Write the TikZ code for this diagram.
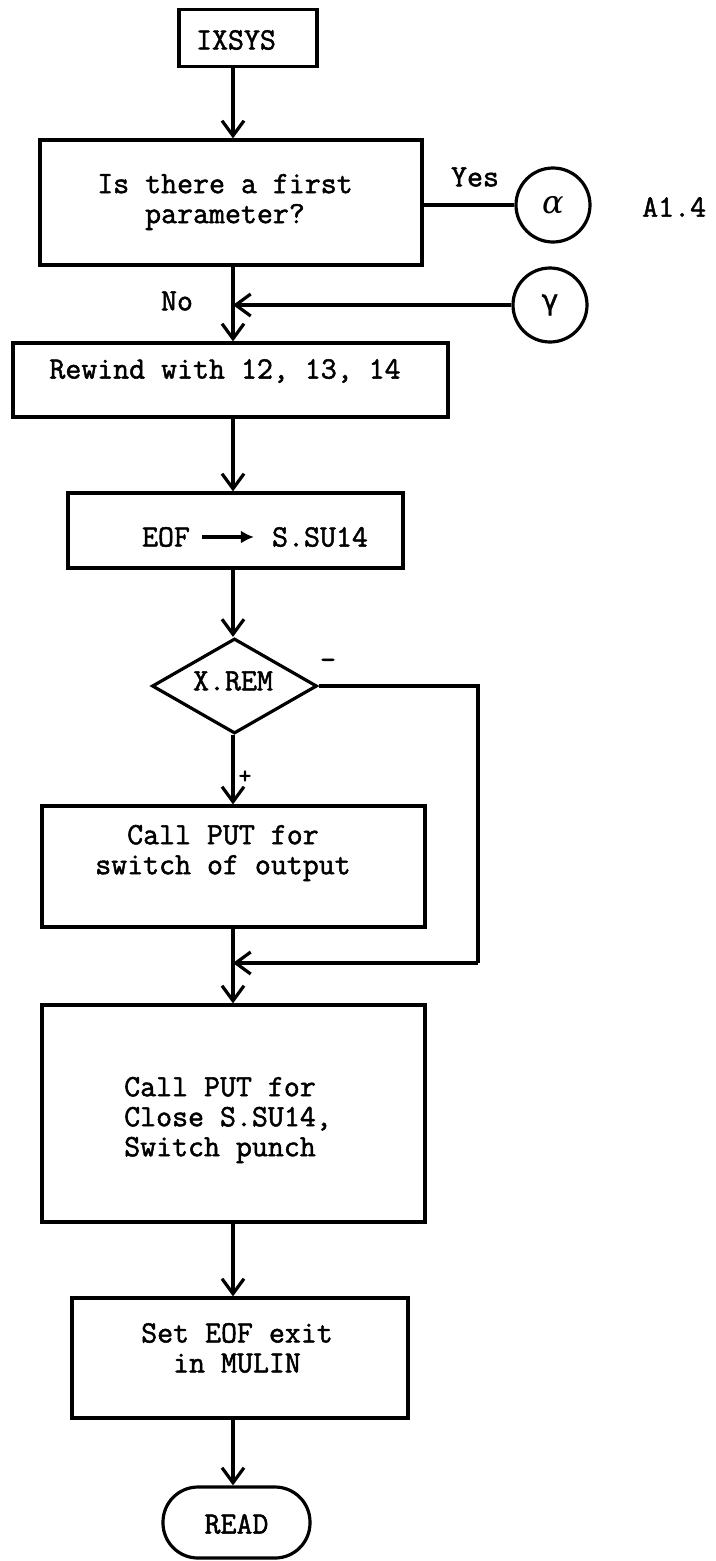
\documentclass[tikz,border=0pt]{standalone}
\usepackage{fontspec}
\usetikzlibrary{arrows.meta,shapes.geometric}
\newfontfamily\greekfont{DejaVu Sans}[FakeBold=1.2]
\newfontfamily\alphafont{DejaVu Serif}
\newfontfamily\typewriter{Latin Modern Mono}[FakeBold=1.6]

\begin{document}
\begin{tikzpicture}[x=1pt,y=-1pt,
  lw/.style={line width=3.2pt},
  box/.style={draw,lw,rectangle,inner sep=0pt},
  txt/.style={inner sep=0pt,align=center,font=\typewriter\fontsize{31}{30}\selectfont},
  conn/.style={draw,lw},
  arr/.style={conn,-{Straight Barb[length=15pt,width=22pt]}},
  connector/.style={draw,lw,circle,inner sep=0pt,minimum size=74pt},
  decision/.style={draw,lw,diamond,aspect=1.74,inner sep=0pt},
  terminal/.style={draw,lw,rectangle,rounded corners=35pt,inner sep=0pt}]

\useasboundingbox (0,0) rectangle (715,1561);

% main flow axis
\coordinate (axis) at (233,0);

% entry point
\node[box,minimum width=138pt,minimum height=57pt] (ixsys) at (248,38) {};
\node[txt] (ixsyst) at (236,40) {IXSYS};

% first parameter test
\node[box,minimum width=382pt,minimum height=125pt] (q1) at (231,202.5) {};
\node[txt] (q1t) at (225,202) {Is there a first\\parameter?};

% off-page connectors
\node[connector] (alpha) at (553,205) {\alphafont\itshape\fontsize{32}{32}\selectfont α};
\node[txt,anchor=west] (a14) at (642,207) {A1.4};
\node[connector] (gamma) at (550,305) {\greekfont\fontsize{28}{28}\selectfont γ};
\node[txt] (yes) at (475,177) {Yes};
\node[txt] (no) at (177,301) {No};

% rewind tapes
\node[box,minimum width=435pt,minimum height=74pt] (rew) at (230.5,380) {};
\node[txt] (rewt) at (225,371) {Rewind with 12, 13, 14};

% EOF into S.SU14
\node[box,minimum width=335pt,minimum height=75pt] (eof) at (235.5,530.5) {};
\node[txt] (eoft) at (166,537) {EOF};
\node[txt] (ssu) at (320,537) {S.SU14};

% X.REM sign test
\node[decision,minimum width=165pt,minimum height=95pt] (xrem) at (234.5,686) {};
\node[txt] (xremt) at (233,681) {X.REM};
\node[txt] (minus) at (328,664) {-};
\node[txt,font=\typewriter\fontsize{25}{25}\selectfont] (plus) at (245,777) {+};

% PUT calls
\node[box,minimum width=383pt,minimum height=121pt] (put1) at (233.5,866.5) {};
\node[txt] (put1t) at (223,853) {Call PUT for\\switch of output};
\node[box,minimum width=383pt,minimum height=217pt] (put2) at (233.5,1113.5) {};
\node[txt,align=left] (put2t) at (228,1120) {Call PUT for\\Close S.SU14,\\Switch punch};

% EOF exit
\node[box,minimum width=336pt,minimum height=120pt] (mulin) at (240,1358) {};
\node[txt] (mulint) at (237,1348) {Set EOF exit\\in MULIN};

% exit
\node[terminal,minimum width=147pt,minimum height=71pt] (read) at (236.5,1522.5) {};
\node[txt] (readt) at (236.5,1524) {READ};

% connectors along the main axis
\draw[arr] (ixsys.south -| axis) -- (q1.north -| axis);
\draw[arr] (q1.south -| axis) -- (rew.north -| axis);
\draw[arr] (rew.south -| axis) -- (eof.north -| axis);
\draw[arr] (eof.south -| axis) -- (xrem.north -| axis);
\draw[arr] (xrem.south -| axis) -- (put1.north -| axis);
\draw[arr] (put1.south -| axis) -- (put2.north -| axis);
\draw[arr] (put2.south -| axis) -- (mulin.north -| axis);
\draw[arr] (mulin.south -| axis) -- (read.north -| axis);

% side branches
\draw[conn] (alpha.west -| q1.east) -- (alpha.west);
\draw[arr] (gamma.west) -- (gamma.west -| axis);
\coordinate (loopa) at (478,686);
\coordinate (loopb) at (478,963);
\draw[conn] (xrem.east) -- (loopa) -- (loopb);
\draw[arr] (loopb) -- (loopb -| axis);

% arrow inside the EOF box
\draw[lw,-{Latex[length=13pt,width=13pt]}] (eoft.east) ++(12,0) -- ([xshift=-18pt]ssu.west);

\end{tikzpicture}
\end{document}
